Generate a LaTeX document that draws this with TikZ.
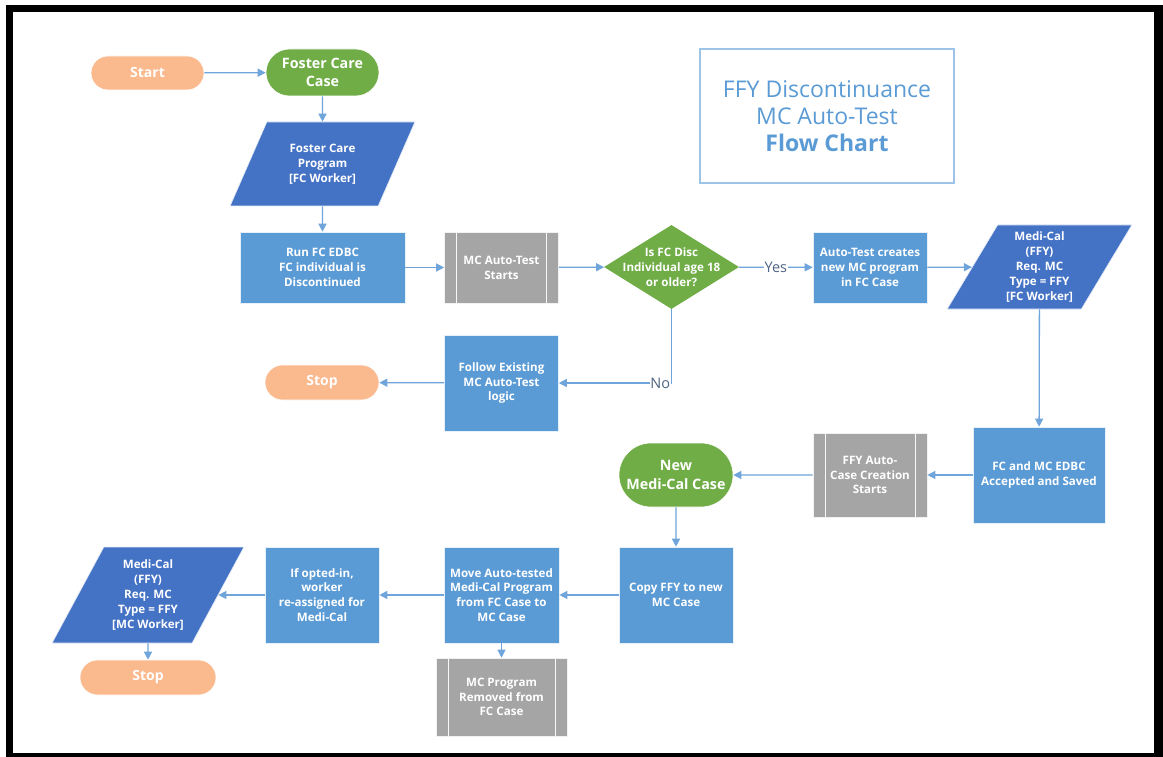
\documentclass[tikz,border=0pt]{standalone}
\usepackage{fontspec}
\setmainfont{Open Sans}
\usetikzlibrary{arrows.meta,shapes.geometric,shapes.misc}
\definecolor{peach}{HTML}{FBB98E}
\definecolor{greenc}{HTML}{70AD47}
\definecolor{darkblue}{HTML}{4472C4}
\definecolor{medblue}{HTML}{5B9BD5}
\definecolor{grayc}{HTML}{A5A5A5}
\definecolor{linec}{HTML}{6FA5DA}
\definecolor{titleborder}{HTML}{9DC3E6}
\definecolor{labelc}{HTML}{4F6382}
\tikzset{
  base/.style={inner sep=0pt, align=center, text=white, font=\bfseries\fontsize{11.6}{14.8}\selectfont},
  pill/.style={base, rounded rectangle, draw=white, line width=0.6pt},
  startstop/.style={pill, fill=peach, font=\bfseries\fontsize{14}{16}\selectfont},
  casepill/.style={pill, fill=greenc, font=\bfseries\fontsize{14.3}{18.5}\selectfont},
  procbox/.style={base, rectangle, fill=medblue, draw=white!85!medblue, line width=0.6pt},
  iobox/.style={base, trapezium, trapezium stretches=true, fill=darkblue, draw=white!85!darkblue, line width=0.6pt},
  predef/.style={base, rectangle, fill=grayc, draw=white!85!grayc, line width=0.6pt,
    path picture={\draw[white!92!grayc, line width=1pt]
      ([xshift=12pt]path picture bounding box.north west) -- ([xshift=12pt]path picture bounding box.south west)
      ([xshift=-12pt]path picture bounding box.north east) -- ([xshift=-12pt]path picture bounding box.south east);}},
  decision/.style={base, diamond, fill=greenc, aspect=1.6},
  conn/.style={draw=linec, line width=1.3pt, -{Triangle[length=8pt,width=8pt]}},
  edgelabel/.style={fill=white, inner sep=0.5pt, text=labelc, font=\fontsize{14.5}{16}\selectfont}
}
\begin{document}
\begin{tikzpicture}[x=1pt,y=-1pt]
\useasboundingbox (0,0) rectangle (1163,757);
\fill[white] (0,0) rectangle (1163,757);
\fill[black] (6,5) rectangle (1163,757);
\fill[white] (13,12) rectangle (1154,753);

% title
\node[draw=titleborder, line width=1.2pt, minimum width=254pt, minimum height=134pt, align=center,
  text=medblue, font=\fontsize{23}{27}\selectfont] (title) at (827,116)
  {FFY Discontinuance\\MC Auto-Test\\\textbf{Flow Chart}};

% nodes
\node[startstop, minimum width=113pt, minimum height=34pt] (start) at (147.5,73) {Start};
\node[casepill, minimum width=113pt, minimum height=47pt] (fcc) at (322.5,72.5) {Foster Care\\Case};
\node[iobox, trapezium left angle=61, trapezium right angle=119, minimum width=185pt, minimum height=84pt] (fcp) at (322.5,164) {Foster Care\\Program\\{[}FC Worker{]}};
\node[procbox, minimum width=165pt, minimum height=71pt] (run) at (322.5,267.5) {Run FC EDBC\\FC individual is\\Discontinued};
\node[predef, minimum width=114pt, minimum height=71pt] (mcat) at (501.5,267.5) {MC Auto-Test\\Starts};
\node[decision, minimum width=135pt, minimum height=84pt] (dia) at (671.5,267) {};
\node[base] at (671.5,267) {Is FC Disc\\Individual age 18\\or older?};
\node[procbox, minimum width=114pt, minimum height=71pt] (atc) at (870,267.5) {Auto-Test creates\\new MC program\\in FC Case};
\node[iobox, trapezium left angle=60, trapezium right angle=120, minimum width=185pt, minimum height=84pt] (mcfc) at (1039.5,267) {Medi-Cal\\(FFY)\\Req. MC\\Type = FFY\\{[}FC Worker{]}};
\node[procbox, minimum width=114pt, minimum height=96pt] (follow) at (501.5,383) {Follow Existing\\MC Auto-Test\\logic};
\node[startstop, minimum width=114pt, minimum height=35pt] (stopa) at (322,382.5) {Stop};
\node[procbox, minimum width=132pt, minimum height=96pt] (edbc) at (1039,475) {FC and MC EDBC\\Accepted and Saved};
\node[predef, minimum width=114pt, minimum height=84pt] (ffy) at (870,475) {FFY Auto-\\Case Creation\\Starts};
\node[casepill, minimum width=114pt, minimum height=64pt] (newmc) at (676,475) {New\\Medi-Cal Case};
\node[procbox, minimum width=114pt, minimum height=96pt] (copy) at (676,595) {Copy FFY to new\\MC Case};
\node[procbox, minimum width=115pt, minimum height=96pt] (move) at (501.5,595) {Move Auto-tested\\Medi-Cal Program\\from FC Case to\\MC Case};
\node[procbox, minimum width=114pt, minimum height=96pt] (opt) at (322,595) {If opted-in,\\worker\\re-assigned for\\Medi-Cal};
\node[iobox, trapezium left angle=59, trapezium right angle=121, minimum width=192pt, minimum height=96pt] (mcmc) at (148,595) {Medi-Cal\\(FFY)\\Req. MC\\Type = FFY\\{[}MC Worker{]}};
\node[startstop, minimum width=136pt, minimum height=35pt] (stopb) at (148,677.5) {Stop};
\node[predef, minimum width=131pt, minimum height=78pt] (removed) at (501.5,697) {MC Program\\Removed from\\FC Case};

% connectors
\draw[conn] (start) -- (fcc);
\draw[conn] (fcc) -- (fcp);
\draw[conn] (fcp) -- (run);
\draw[conn] (run) -- (mcat);
\draw[conn] (mcat) -- (dia);
\draw[conn] (dia) -- node[edgelabel] {Yes} (atc);
\draw[conn] (atc) -- (mcfc);
\draw[conn] (mcfc) -- (edbc);
\draw[conn] (edbc) -- (ffy);
\draw[conn] (ffy) -- (newmc);
\draw[conn] (newmc) -- (copy);
\draw[conn] (copy) -- (move);
\draw[conn] (move) -- (opt);
\draw[conn] (opt) -- (mcmc);
\draw[conn] (mcmc) -- (stopb);
\draw[conn] (move) -- (removed);
\draw[conn] (dia.south) |- node[edgelabel, pos=0.55] {No} (follow.east);
\draw[conn] (follow) -- (stopa);
\end{tikzpicture}
\end{document}
